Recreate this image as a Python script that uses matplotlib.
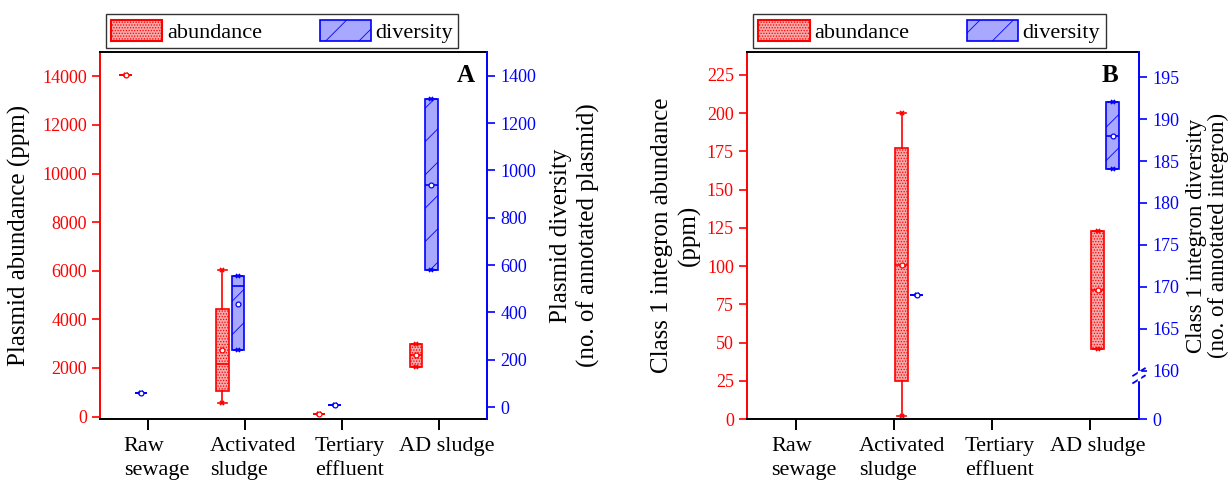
import matplotlib
matplotlib.use('Agg')
import matplotlib.pyplot as plt
from matplotlib.patches import Patch
from matplotlib.transforms import ScaledTranslation
import numpy as np

plt.rcParams['font.family'] = ['Liberation Serif', 'DejaVu Serif']
plt.rcParams['hatch.linewidth'] = 0.6

categories = ['Raw\nsewage', 'Activated\nsludge', 'Tertiary\neffluent', 'AD sludge']

# ---- Panel A: plasmid abundance (ppm) ----
a_ab_min = [14070, 570, 120, 2060]
a_ab_q1 = [14070, 1070, 120, 2060]
a_ab_med = [14070, 2180, 120, 2520]
a_ab_q3 = [14070, 4430, 120, 2990]
a_ab_max = [14070, 6040, 120, 2990]
a_ab_mean = [14070, 2740, 120, 2520]

# ---- Panel A: plasmid diversity (no. annotated plasmid) ----
a_dv_min = [58, 243, 9, 580]
a_dv_q1 = [58, 243, 9, 580]
a_dv_med = [58, 513, 9, 940]
a_dv_q3 = [58, 556, 9, 1300]
a_dv_max = [58, 556, 9, 1300]
a_dv_mean = [58, 437, 9, 940]

# ---- Panel B: class 1 integron abundance (ppm) ----
b_ab_min = [None, 2, None, 46]
b_ab_q1 = [None, 24.7, None, 46]
b_ab_med = [None, 101, None, 84.3]
b_ab_q3 = [None, 177.2, None, 123]
b_ab_max = [None, 199.8, None, 123]
b_ab_mean = [None, 101, None, 84.3]

# ---- Panel B: class 1 integron diversity ----
b_dv_min = [None, 169, None, 184]
b_dv_q1 = [None, 169, None, 184]
b_dv_med = [None, 169, None, 188]
b_dv_q3 = [None, 169, None, 192]
b_dv_max = [None, 169, None, 192]
b_dv_mean = [None, 169, None, 188]

RED = '#ff0000'
BLUE = '#0000ff'
RED_FACE = '#f7a8a8'
BLUE_FACE = '#a8a8ff'
DOTS = '......'

fig = plt.figure(figsize=(12.31, 4.84), dpi=100)
W, H = 1231, 484


def add_axes(x0, x1, ytop, ybot):
    return fig.add_axes([x0 / W, (H - ybot) / H, (x1 - x0) / W, (ybot - ytop) / H])


def draw_boxes(ax, positions, mins, q1s, meds, q3s, maxs, means, color, face, hatch):
    stats, pos = [], []
    for p, lo, a, m, b, hi, mu in zip(positions, mins, q1s, meds, q3s, maxs, means):
        if lo is None:
            continue
        stats.append(dict(whislo=lo, q1=a, med=m, q3=b, whishi=hi, mean=mu, fliers=[]))
        pos.append(p)
    ax.bxp(stats, positions=pos, widths=0.13, patch_artist=True, showmeans=True,
           showfliers=False, capwidths=0.09,
           boxprops=dict(facecolor=face, edgecolor=color, hatch=hatch, linewidth=1.2),
           whiskerprops=dict(color=color, linewidth=1.2),
           capprops=dict(color=color, linewidth=1.2),
           medianprops=dict(color=color, linewidth=1.2),
           meanprops=dict(marker='o', markersize=3.5, markerfacecolor='white',
                          markeredgecolor=color, markeredgewidth=0.9))
    lo = [s['whislo'] for s in stats]
    hi = [s['whishi'] for s in stats]
    ax.plot(pos, hi, ls='none', marker='x', ms=3.5, mew=1.2, color=color)
    ax.plot(pos, lo, ls='none', marker='x', ms=3.5, mew=1.2, color=color)


def style_axes(ax, axr):
    for s in ['top', 'bottom']:
        ax.spines[s].set_color('black')
        ax.spines[s].set_linewidth(1.4)
    ax.spines['left'].set_color(RED)
    ax.spines['left'].set_linewidth(1.4)
    ax.spines['right'].set_visible(False)
    for s in ['top', 'bottom', 'left']:
        axr.spines[s].set_visible(False)
    axr.spines['right'].set_color(BLUE)
    axr.spines['right'].set_linewidth(1.4)
    ax.tick_params(axis='y', colors=RED, direction='out', length=6, width=1.2, labelsize=13)
    axr.tick_params(axis='y', colors=BLUE, direction='out', length=6, width=1.2, labelsize=13)
    ax.tick_params(axis='x', colors='black', direction='out', length=8, width=1.4,
                   labelsize=16, pad=5)
    ax.set_xlim(0.5, 4.5)
    ax.set_xticks([1, 2, 3, 4])
    ax.set_xticklabels(categories, linespacing=1.35, multialignment='left')
    for lbl in ax.get_xticklabels():
        lbl.set_transform(lbl.get_transform() + ScaledTranslation(0.08, 0, fig.dpi_scale_trans))


def add_legend(ax):
    handles = [Patch(facecolor=RED_FACE, edgecolor=RED, hatch=DOTS, linewidth=1.5, label='abundance'),
               Patch(facecolor=BLUE_FACE, edgecolor=BLUE, hatch='/', linewidth=1.2, label='diversity')]
    leg = ax.legend(handles=handles, loc='lower left', bbox_to_anchor=(0.015, 1.01), ncol=2,
                    fontsize=16, frameon=True, fancybox=False, handlelength=2.3,
                    handleheight=1.1, columnspacing=2.6, handletextpad=0.2,
                    borderpad=0.25, borderaxespad=0.0)
    leg.get_frame().set_edgecolor('black')
    leg.get_frame().set_linewidth(1.0)


xs = np.array([1, 2, 3, 4], dtype=float)

# ================= Panel A =================
axA = add_axes(100, 487, 52, 419)
axA2 = axA.twinx()
draw_boxes(axA, xs - 0.235, a_ab_min, a_ab_q1, a_ab_med, a_ab_q3, a_ab_max, a_ab_mean,
           RED, RED_FACE, DOTS)
draw_boxes(axA2, xs - 0.075, a_dv_min, a_dv_q1, a_dv_med, a_dv_q3, a_dv_max, a_dv_mean,
           BLUE, BLUE_FACE, '/')
axA.set_ylim(-100, 15000)
axA.set_yticks(np.arange(0, 14001, 2000))
axA2.set_ylim(-50, 1500)
axA2.set_yticks(np.arange(0, 1401, 200))
style_axes(axA, axA2)
axA.set_ylabel('Plasmid abundance (ppm)', fontsize=18, labelpad=8)
axA2.set_ylabel('Plasmid diversity\n(no. of annotated plasmid)', fontsize=18, labelpad=10,
                linespacing=1.25)
axA.text(0.945, 0.935, 'A', transform=axA.transAxes, fontsize=18, fontweight='bold',
         ha='center', va='center')
add_legend(axA)

# ================= Panel B =================
axB = add_axes(747, 1139, 52, 419)
axB2 = axB.twinx()

BRK = 159.5
K = 5.25 / BRK


def fwd(v):
    v = np.asarray(v, dtype=float)
    return np.where(v <= BRK, v * K, BRK * K + (v - BRK))


def inv(t):
    t = np.asarray(t, dtype=float)
    return np.where(t <= BRK * K, t / K, t - BRK * K + BRK)


axB2.set_yscale('function', functions=(fwd, inv))
draw_boxes(axB, xs + 0.08, b_ab_min, b_ab_q1, b_ab_med, b_ab_q3, b_ab_max, b_ab_mean,
           RED, RED_FACE, DOTS)
draw_boxes(axB2, xs + 0.23, b_dv_min, b_dv_q1, b_dv_med, b_dv_q3, b_dv_max, b_dv_mean,
           BLUE, BLUE_FACE, '/')
axB.set_ylim(0, 240)
axB.set_yticks(np.arange(0, 226, 25))
axB2.set_ylim(0, 198)
axB2.set_yticks([0, 160, 165, 170, 175, 180, 185, 190, 195])
axB2.set_yticklabels(['0', '160', '165', '170', '175', '180', '185', '190', '195'])
axB2.minorticks_off()
style_axes(axB, axB2)
axB.set_ylabel('Class 1 integron abundance\n(ppm)', fontsize=18, labelpad=4, linespacing=1.3)
axB2.set_ylabel('Class 1 integron diversity\n(no. of annotated integron)', fontsize=16.5,
                labelpad=5, linespacing=1.02)
axB.text(0.925, 0.935, 'B', transform=axB.transAxes, fontsize=18, fontweight='bold',
         ha='center', va='center')
add_legend(axB)

# axis break marks on the right (blue) axis
yb = float(fwd(BRK) / fwd(198))
for dy in (-0.012, 0.008):
    axB2.plot([0.985, 1.015], [yb + dy - 0.01, yb + dy + 0.01], transform=axB2.transAxes,
              color=BLUE, lw=1.3, clip_on=False)
axB2.plot([1.0, 1.0], [yb - 0.012, yb + 0.008], transform=axB2.transAxes, color='white',
          lw=2.5, clip_on=False, zorder=5)

fig.savefig('out.png', dpi=100)
